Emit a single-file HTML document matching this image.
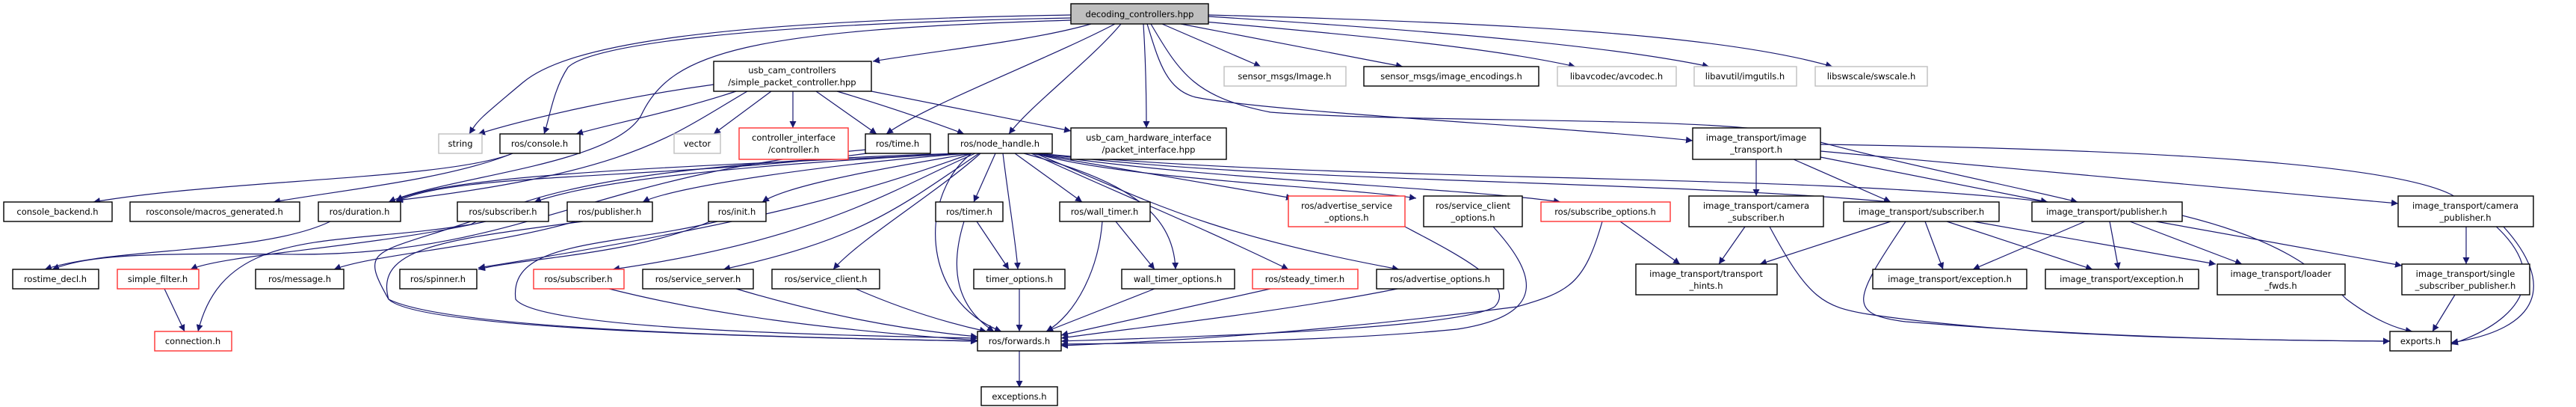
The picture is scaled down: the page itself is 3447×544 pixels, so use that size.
<!DOCTYPE html>
<html><head><meta charset="utf-8"><style>
html,body{margin:0;padding:0;background:#fff;}
svg{display:block;}
text{font-family:"DejaVu Sans","Liberation Sans",sans-serif;font-size:11.5px;fill:#000;text-anchor:middle;}
.b{fill:#fff;stroke:#000;stroke-width:1.4}
.r{fill:#fff;stroke:#ff3030;stroke-width:1.4}
.g{fill:#fff;stroke:#bfbfbf;stroke-width:1.4}
path.e{fill:none;stroke:#191970;stroke-width:1.2}
</style></head><body>
<svg width="3447" height="544" viewBox="0 0 3447 544" xmlns="http://www.w3.org/2000/svg">
<defs><marker id="a" viewBox="0 0 10 10" refX="10" refY="5" markerWidth="9" markerHeight="9" orient="auto" markerUnits="userSpaceOnUse"><path d="M0,0 L10,5 L0,10 z" fill="#191970"/></marker></defs>
<g marker-end="url(#a)">
<path class="e" d="M1460,32 C1380,55 1250,68 1168,82"/>
<path class="e" d="M1433,20 C950,28 760,60 700,110 S640,160 628,179"/>
<path class="e" d="M1433,24 C1000,32 790,60 760,90 C740,120 735,160 728,179"/>
<path class="e" d="M1433,27 C1000,40 900,70 860,150 C830,220 600,235 520,270"/>
<path class="e" d="M1492,32 C1400,80 1240,140 1186,179"/>
<path class="e" d="M1500,32 C1460,80 1380,140 1350,179"/>
<path class="e" d="M1530,32 C1533,80 1534,130 1534,171"/>
<path class="e" d="M1535,32 C1550,80 1560,120 1600,130 C1700,150 2100,170 2265,188"/>
<path class="e" d="M1540,32 C1580,100 1600,130 1700,150 C1900,165 2300,155 2400,180 C2500,210 2700,250 2780,270"/>
<path class="e" d="M1555,32 L1687,89"/>
<path class="e" d="M1580,32 L1877,89"/>
<path class="e" d="M1600,28 C1850,50 2000,65 2108,89"/>
<path class="e" d="M1617,22 C1900,40 2150,60 2287,89"/>
<path class="e" d="M1617,20 C2000,30 2300,45 2452,89"/>
<path class="e" d="M955,113 C830,130 700,160 640,179"/>
<path class="e" d="M985,122 C900,150 820,165 771,179"/>
<path class="e" d="M1032,122 L955,179"/>
<path class="e" d="M1061,122 L1061,171"/>
<path class="e" d="M1092,122 L1173,179"/>
<path class="e" d="M1120,122 C1180,140 1240,160 1290,179"/>
<path class="e" d="M1166,122 L1433,175"/>
<path class="e" d="M1000,122 C900,180 850,230 530,268"/>
<path class="e" d="M686,205 C600,240 300,240 125,270"/>
<path class="e" d="M686,205 C600,240 450,255 366,270"/>
<path class="e" d="M1160,205 C900,240 600,230 530,270"/>
<path class="e" d="M1160,200 C800,230 700,340 400,340 C200,338 120,340 70,360"/>
<path class="e" d="M442,296 C350,340 150,330 60,360"/>
<path class="e" d="M1290,205 C1000,220 600,230 530,268"/>
<path class="e" d="M1290,205 C1000,220 800,240 715,270"/>
<path class="e" d="M1295,205 C1100,220 900,250 860,270"/>
<path class="e" d="M1300,205 C1150,230 1050,250 1020,270"/>
<path class="e" d="M1300,205 C1150,260 1000,300 640,358"/>
<path class="e" d="M1305,205 C1200,250 1100,320 820,360"/>
<path class="e" d="M1310,205 C1200,280 1150,320 968,360"/>
<path class="e" d="M1312,205 C1250,260 1150,320 1115,360"/>
<path class="e" d="M1332,205 L1303,270"/>
<path class="e" d="M1342,205 C1350,270 1360,330 1362,360"/>
<path class="e" d="M1358,205 L1448,270"/>
<path class="e" d="M1370,205 C1500,240 1570,280 1573,360"/>
<path class="e" d="M1380,205 C1500,260 1600,300 1724,360"/>
<path class="e" d="M1385,205 C1520,260 1600,310 1872,360"/>
<path class="e" d="M1380,205 L1730,265"/>
<path class="e" d="M1385,205 C1500,240 1800,250 1895,265"/>
<path class="e" d="M1385,205 C1600,240 1950,250 2088,270"/>
<path class="e" d="M1390,205 C1700,245 2200,240 2530,270"/>
<path class="e" d="M1390,205 C1800,245 2400,230 2740,270"/>
<path class="e" d="M1300,205 C1230,260 1230,400 1340,443"/>
<path class="e" d="M1290,205 C900,215 720,250 630,300 C450,330 300,300 265,443"/>
<path class="e" d="M650,296 C500,330 300,340 255,360"/>
<path class="e" d="M630,296 C500,340 480,330 520,400 C600,440 1000,450 1308,456"/>
<path class="e" d="M780,296 C600,320 500,330 520,400 C560,440 1000,450 1308,456"/>
<path class="e" d="M960,296 C820,330 680,320 690,400 C720,440 1100,448 1308,452"/>
<path class="e" d="M770,296 C650,330 500,340 447,360"/>
<path class="e" d="M950,296 C850,340 700,345 640,360"/>
<path class="e" d="M220,386 L247,443"/>
<path class="e" d="M815,386 C950,420 1100,440 1308,455"/>
<path class="e" d="M985,386 C1100,420 1200,440 1308,450"/>
<path class="e" d="M1145,386 C1200,410 1260,430 1320,443"/>
<path class="e" d="M1307,296 L1350,360"/>
<path class="e" d="M1290,296 C1270,360 1280,410 1330,443"/>
<path class="e" d="M1493,296 L1545,360"/>
<path class="e" d="M1475,296 C1470,360 1440,420 1400,443"/>
<path class="e" d="M1364,386 L1364,443"/>
<path class="e" d="M1545,386 L1400,443"/>
<path class="e" d="M1700,386 L1420,448"/>
<path class="e" d="M1870,386 C1700,420 1500,440 1420,452"/>
<path class="e" d="M1880,303 C1950,340 2030,380 2000,410 C1950,440 1600,450 1420,456"/>
<path class="e" d="M1998,303 C2050,360 2080,420 1950,440 C1800,455 1600,458 1420,460"/>
<path class="e" d="M2144,296 C2120,380 2100,390 2030,410 C1800,440 1600,455 1420,462"/>
<path class="e" d="M2168,296 L2248,353"/>
<path class="e" d="M1364,469 L1364,518"/>
<path class="e" d="M2350,213 L2350,262"/>
<path class="e" d="M2400,213 L2530,270"/>
<path class="e" d="M2436,210 L2740,270"/>
<path class="e" d="M2436,202 L3209,272"/>
<path class="e" d="M2436,193 C2900,200 3200,220 3280,260 C3420,340 3400,420 3280,460"/>
<path class="e" d="M2335,303 L2300,353"/>
<path class="e" d="M2368,303 C2420,400 2440,410 2500,420 C2700,450 3000,455 3198,456"/>
<path class="e" d="M2530,296 L2355,353"/>
<path class="e" d="M2576,296 L2600,360"/>
<path class="e" d="M2605,296 L2800,360"/>
<path class="e" d="M2640,296 L2965,353"/>
<path class="e" d="M2550,296 C2480,400 2470,420 2550,430 C2800,450 3000,455 3198,456"/>
<path class="e" d="M2790,296 L2640,360"/>
<path class="e" d="M2823,296 L2835,360"/>
<path class="e" d="M2850,296 L3000,353"/>
<path class="e" d="M2885,296 L3214,355"/>
<path class="e" d="M2920,288 C3050,320 3100,360 3140,400 C3180,430 3210,440 3228,443"/>
<path class="e" d="M3300,303 L3300,353"/>
<path class="e" d="M3350,303 C3420,380 3400,440 3280,458"/>
<path class="e" d="M3285,394 L3255,443"/>
</g>
<!-- nodes -->
<rect x="1433" y="5" width="184" height="27" fill="#bfbfbf" stroke="#000" stroke-width="1.4"/><text x="1525" y="23">decoding_controllers.hpp</text>
<rect class="b" x="955" y="82" width="211" height="40"/><text x="1060" y="98">usb_cam_controllers</text><text x="1060" y="114">/simple_packet_controller.hpp</text>
<rect class="g" x="1638" y="89" width="163" height="26"/><text x="1719" y="106">sensor_msgs/Image.h</text>
<rect class="b" x="1825" y="89" width="234" height="26"/><text x="1942" y="106">sensor_msgs/image_encodings.h</text>
<rect class="g" x="2084" y="89" width="159" height="26"/><text x="2163" y="106">libavcodec/avcodec.h</text>
<rect class="g" x="2267" y="89" width="137" height="26"/><text x="2335" y="106">libavutil/imgutils.h</text>
<rect class="g" x="2429" y="89" width="150" height="26"/><text x="2504" y="106">libswscale/swscale.h</text>
<rect class="g" x="587" y="179" width="58" height="26"/><text x="616" y="196">string</text>
<rect class="b" x="669" y="179" width="107" height="26"/><text x="722" y="196">ros/console.h</text>
<rect class="g" x="902" y="179" width="62" height="26"/><text x="933" y="196">vector</text>
<rect class="r" x="989" y="171" width="146" height="42"/><text x="1062" y="188">controller_interface</text><text x="1062" y="204">/controller.h</text>
<rect class="b" x="1158" y="179" width="87" height="26"/><text x="1201" y="196">ros/time.h</text>
<rect class="b" x="1269" y="179" width="139" height="26"/><text x="1338" y="196">ros/node_handle.h</text>
<rect class="b" x="1433" y="171" width="208" height="42"/><text x="1537" y="188">usb_cam_hardware_interface</text><text x="1537" y="204">/packet_interface.hpp</text>
<rect class="b" x="2265" y="171" width="171" height="42"/><text x="2350" y="188">image_transport/image</text><text x="2350" y="204">_transport.h</text>
<rect class="b" x="5" y="270" width="145" height="26"/><text x="77" y="287">console_backend.h</text>
<rect class="b" x="174" y="270" width="227" height="26"/><text x="287" y="287">rosconsole/macros_generated.h</text>
<rect class="b" x="426" y="270" width="110" height="26"/><text x="481" y="287">ros/duration.h</text>
<rect class="b" x="612" y="270" width="122" height="26"/><text x="673" y="287">ros/subscriber.h</text>
<rect class="b" x="759" y="270" width="114" height="26"/><text x="816" y="287">ros/publisher.h</text>
<rect class="b" x="948" y="270" width="77" height="26"/><text x="986" y="287">ros/init.h</text>
<rect class="b" x="1252" y="270" width="90" height="26"/><text x="1297" y="287">ros/timer.h</text>
<rect class="b" x="1418" y="270" width="121" height="26"/><text x="1478" y="287">ros/wall_timer.h</text>
<rect class="r" x="1724" y="262" width="156" height="41"/><text x="1802" y="279">ros/advertise_service</text><text x="1802" y="295">_options.h</text>
<rect class="b" x="1905" y="262" width="132" height="41"/><text x="1971" y="279">ros/service_client</text><text x="1971" y="295">_options.h</text>
<rect class="r" x="2062" y="270" width="173" height="26"/><text x="2148" y="287">ros/subscribe_options.h</text>
<rect class="b" x="2260" y="262" width="180" height="41"/><text x="2350" y="279">image_transport/camera</text><text x="2350" y="295">_subscriber.h</text>
<rect class="b" x="2467" y="270" width="208" height="26"/><text x="2571" y="287">image_transport/subscriber.h</text>
<rect class="b" x="2719" y="270" width="201" height="26"/><text x="2819" y="287">image_transport/publisher.h</text>
<rect class="b" x="3209" y="262" width="181" height="41"/><text x="3299" y="279">image_transport/camera</text><text x="3299" y="295">_publisher.h</text>
<rect class="b" x="17" y="360" width="115" height="26"/><text x="74" y="377">rostime_decl.h</text>
<rect class="r" x="157" y="360" width="109" height="26"/><text x="211" y="377">simple_filter.h</text>
<rect class="b" x="342" y="360" width="118" height="26"/><text x="401" y="377">ros/message.h</text>
<rect class="b" x="535" y="360" width="103" height="26"/><text x="586" y="377">ros/spinner.h</text>
<rect class="r" x="714" y="360" width="121" height="26"/><text x="774" y="377">ros/subscriber.h</text>
<rect class="b" x="860" y="360" width="148" height="26"/><text x="934" y="377">ros/service_server.h</text>
<rect class="b" x="1033" y="360" width="144" height="26"/><text x="1105" y="377">ros/service_client.h</text>
<rect class="b" x="1303" y="360" width="122" height="26"/><text x="1364" y="377">timer_options.h</text>
<rect class="b" x="1501" y="360" width="151" height="26"/><text x="1576" y="377">wall_timer_options.h</text>
<rect class="r" x="1676" y="360" width="141" height="26"/><text x="1746" y="377">ros/steady_timer.h</text>
<rect class="b" x="1842" y="360" width="170" height="26"/><text x="1927" y="377">ros/advertise_options.h</text>
<rect class="b" x="2189" y="353" width="189" height="41"/><text x="2283" y="370">image_transport/transport</text><text x="2283" y="386">_hints.h</text>
<rect class="b" x="2506" y="360" width="206" height="26"/><text x="2609" y="377">image_transport/exception.h</text>
<rect class="b" x="2737" y="360" width="205" height="26"/><text x="2839" y="377">image_transport/exception.h</text>
<rect class="b" x="2967" y="353" width="171" height="41"/><text x="3052" y="370">image_transport/loader</text><text x="3052" y="386">_fwds.h</text>
<rect class="b" x="3214" y="353" width="171" height="41"/><text x="3299" y="370">image_transport/single</text><text x="3299" y="386">_subscriber_publisher.h</text>
<rect class="r" x="207" y="443" width="103" height="26"/><text x="258" y="460">connection.h</text>
<rect class="b" x="1308" y="443" width="112" height="26"/><text x="1364" y="460">ros/forwards.h</text>
<rect class="b" x="3198" y="443" width="82" height="26"/><text x="3239" y="460">exports.h</text>
<rect class="b" x="1313" y="517" width="102" height="25"/><text x="1364" y="534">exceptions.h</text>
</svg>
</body></html>
